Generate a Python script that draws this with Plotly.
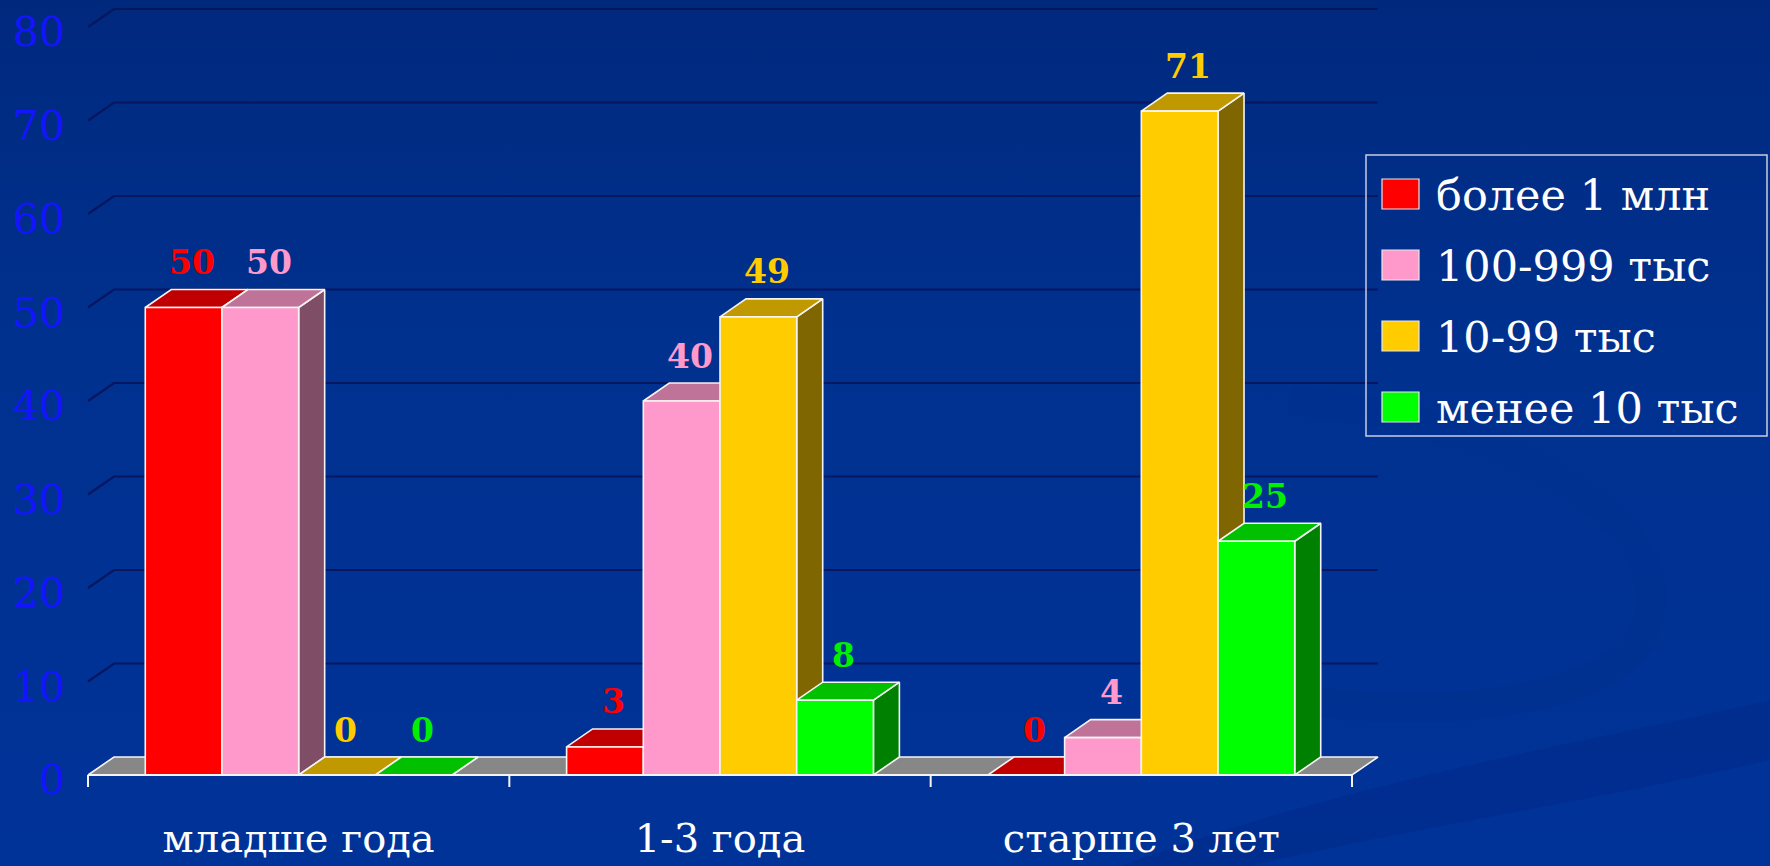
import base64
import plotly.graph_objects as go

# ---- data ----
categories = ["младше года", "1-3 года", "старше 3 лет"]
series_names = ["более 1 млн", "100-999 тыс", "10-99 тыс", "менее 10 тыс"]
values_over_1m = [50, 3, 0]
values_100_999k = [50, 40, 4]
values_10_99k = [0, 49, 71]
values_under_10k = [0, 8, 25]
y_ticks = [0, 10, 20, 30, 40, 50, 60, 70, 80]

series_values = [values_over_1m, values_100_999k, values_10_99k, values_under_10k]

# ---- styles ----
front_colors = ["#ff0000", "#ff99cc", "#ffcc00", "#00ff00"]
top_colors = ["#c00000", "#c07399", "#c09900", "#00c000"]
side_colors = ["#800000", "#804d66", "#806600", "#008000"]
label_colors = ["#ff0000", "#ff99cc", "#ffcc00", "#00f000"]
EDGE = "#f4f4f4"
GRID = "#07175f"
SERIF = "DejaVu Serif, Liberation Serif, serif"

# ---- page geometry (pixels) ----
W, H = 1770, 866
PLOT_L, PLOT_R, PLOT_T, PLOT_B = 80, 1390, 0, 792
X0_PX, X1_PX = 88, 1352          # front edge of the floor
Y0_PX = 775                      # value 0 on the front plane
PX_PER_UNIT_Y = 9.35
DEPTH_X_PX, DEPTH_Y_PX = 26, 18  # oblique depth of the 3-D look
BAR_W_PX = 76.7

px_per_cat = (X1_PX - X0_PX) / len(categories)
x_lo = -0.5 - (X0_PX - PLOT_L) / px_per_cat
x_hi = len(categories) - 0.5 + (PLOT_R - X1_PX) / px_per_cat
y_lo = -(PLOT_B - Y0_PX) / PX_PER_UNIT_Y
y_hi = (Y0_PX - PLOT_T) / PX_PER_UNIT_Y
DX = DEPTH_X_PX / px_per_cat
DY = DEPTH_Y_PX / PX_PER_UNIT_Y
BW = BAR_W_PX / px_per_cat
XL, XR = -0.5, len(categories) - 0.5


def px2paper_x(px):
    return (px - PLOT_L) / (PLOT_R - PLOT_L)


def py2paper_y(py):
    return (PLOT_B - py) / (PLOT_B - PLOT_T)


def poly_trace(xs, ys, fill, line_w=1.6):
    return go.Scatter(
        x=xs, y=ys, mode="lines", fill="toself", fillcolor=fill,
        line=dict(color=EDGE, width=line_w), hoverinfo="skip", showlegend=False,
    )


fig = go.Figure()

# floor
fig.add_trace(poly_trace(
    [XL, XR, XR + DX, XL + DX, XL],
    [0, 0, DY, DY, 0], "#878787"))

# bars: side, top and front faces, series drawn left to right
n_series = len(series_values)
for j, vals in enumerate(series_values):
    side_x, side_y, top_x, top_y, fr_x, fr_y = [], [], [], [], [], []
    for i, v in enumerate(vals):
        xl = i + (j - n_series / 2) * BW
        xr = xl + BW
        side_x += [xr, xr + DX, xr + DX, xr, xr, None]
        side_y += [0, DY, v + DY, v, 0, None]
        top_x += [xl, xr, xr + DX, xl + DX, xl, None]
        top_y += [v, v, v + DY, v + DY, v, None]
        fr_x += [xl, xr, xr, xl, xl, None]
        fr_y += [0, 0, v, v, 0, None]
    fig.add_trace(poly_trace(side_x, side_y, side_colors[j]))
    fig.add_trace(poly_trace(top_x, top_y, top_colors[j]))
    fig.add_trace(poly_trace(fr_x, fr_y, front_colors[j]))

# back-wall gridlines with their oblique lead-in
shapes = []
for t in y_ticks[1:]:
    shapes.append(dict(
        type="path", xref="x", yref="y", layer="below",
        path=f"M {XL},{t} L {XL + DX},{t + DY} L {XR + DX},{t + DY}",
        line=dict(color=GRID, width=2.2)))

# category axis line with separators
shapes.append(dict(type="line", xref="x", yref="y", x0=XL, x1=XR, y0=0, y1=0,
                   line=dict(color=EDGE, width=2)))
tick_len = 12 / PX_PER_UNIT_Y
for k in range(len(categories) + 1):
    xs = XL + k
    shapes.append(dict(type="line", xref="x", yref="y", x0=xs, x1=xs,
                       y0=0, y1=-tick_len, line=dict(color=EDGE, width=2)))

# value labels
annotations = []
for j, vals in enumerate(series_values):
    for i, v in enumerate(vals):
        xc = i + (j - n_series / 2 + 0.5) * BW + DX / 3
        annotations.append(dict(
            x=xc, y=v + DY, xref="x", yref="y", text=f"<b>{v}</b>",
            showarrow=False, yanchor="middle", yshift=27,
            font=dict(family=SERIF, size=33, color=label_colors[j])))

# legend box
LG_L, LG_R, LG_T, LG_B = 1366, 1767, 155, 436
shapes.append(dict(type="rect", xref="paper", yref="paper",
                   x0=px2paper_x(LG_L), x1=px2paper_x(LG_R),
                   y0=py2paper_y(LG_B), y1=py2paper_y(LG_T),
                   line=dict(color="#c8cce0", width=1.5), fillcolor="rgba(0,0,0,0)"))
row_centers = [194, 265, 336, 407]
for j, name in enumerate(series_names):
    cy = row_centers[j]
    shapes.append(dict(type="rect", xref="paper", yref="paper",
                       x0=px2paper_x(1382), x1=px2paper_x(1419),
                       y0=py2paper_y(cy + 15), y1=py2paper_y(cy - 15),
                       line=dict(color="#e8e8e8", width=1.2),
                       fillcolor=front_colors[j]))
    annotations.append(dict(
        x=px2paper_x(1434), y=py2paper_y(cy + 1), xref="paper", yref="paper",
        text=name, showarrow=False, xanchor="left", yanchor="middle",
        font=dict(family=SERIF, size=43, color="white")))

# slide background
svg = f"""<svg xmlns="http://www.w3.org/2000/svg" width="{W}" height="{H}" viewBox="0 0 {W} {H}" preserveAspectRatio="none">
<defs>
<linearGradient id="g" x1="0" y1="0" x2="0" y2="1">
<stop offset="0" stop-color="#00297e"/>
<stop offset="0.4" stop-color="#00318f"/>
<stop offset="1" stop-color="#003399"/>
</linearGradient>
</defs>
<rect width="{W}" height="{H}" fill="url(#g)"/>
<path d="M 1120 866 C 1350 780 1600 740 1770 700 L 1770 760 C 1600 800 1400 830 1250 866 Z" fill="#002a88" opacity="0.55"/>
<path d="M 1290 400 C 1500 420 1700 520 1640 640 C 1600 700 1450 720 1300 700" fill="none" stroke="#00308f" stroke-width="30" opacity="0.6"/>
</svg>"""
bg_src = "data:image/svg+xml;base64," + base64.b64encode(svg.encode("utf-8")).decode("ascii")
pw, ph = PLOT_R - PLOT_L, PLOT_B - PLOT_T

fig.update_layout(
    width=W, height=H,
    margin=dict(l=PLOT_L, r=W - PLOT_R, t=PLOT_T, b=H - PLOT_B, pad=0, autoexpand=False),
    paper_bgcolor="#00308f", plot_bgcolor="rgba(0,0,0,0)",
    showlegend=False,
    shapes=shapes, annotations=annotations,
    images=[dict(source=bg_src, xref="paper", yref="paper",
                 x=px2paper_x(0), y=py2paper_y(0), sizex=W / pw, sizey=H / ph,
                 xanchor="left", yanchor="top", sizing="stretch", layer="below")],
    xaxis=dict(range=[x_lo, x_hi], tickvals=list(range(len(categories))),
               ticktext=categories, ticks="", showgrid=False, zeroline=False,
               showline=False, ticklabelstandoff=19, fixedrange=True, automargin=False,
               tickfont=dict(family=SERIF, size=40, color="white")),
    yaxis=dict(range=[y_lo, y_hi], tickvals=y_ticks, ticks="", showgrid=False,
               zeroline=False, showline=False, ticklabelstandoff=14,
               ticklabelshift=5, fixedrange=True, automargin=False,
               tickfont=dict(family=SERIF, size=41, color="#1414ff")),
)

fig.write_html("out.html")
